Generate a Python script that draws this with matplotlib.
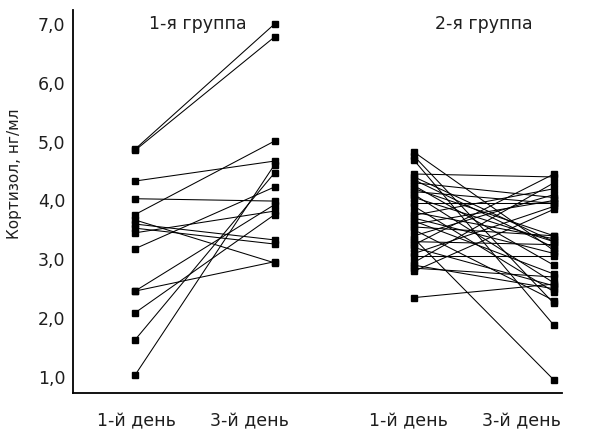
import matplotlib
matplotlib.use('Agg')
import matplotlib.pyplot as plt

plt.rcParams['font.family'] = ['DejaVu Sans']

# 1-я группа: значения в 1-й и 3-й день (пары)
g1_day1 = [4.87, 4.85, 4.33, 4.03, 3.76, 3.67, 3.60, 3.53, 3.45, 3.18, 2.46, 2.46, 2.09, 1.63, 1.03]
g1_day3 = [7.00, 6.78, 4.67, 3.99, 5.01, 2.94, 3.33, 3.26, 3.82, 4.23, 2.96, 3.93, 3.76, 4.47, 4.61]

# 2-я группа
g2_day1 = [4.82, 4.75, 4.68, 4.45, 4.40, 4.35, 4.30, 4.25, 4.20, 4.15, 4.10, 4.05, 3.95,
           3.90, 3.80, 3.75, 3.70, 3.65, 3.60, 3.55, 3.50, 3.40, 3.35, 3.30, 3.25, 3.20,
           3.10, 3.05, 2.95, 2.90, 2.85, 2.80, 2.35]
g2_day3 = [3.15, 2.25, 1.88, 4.40, 3.30, 3.20, 4.05, 2.90, 3.40, 3.95, 2.60, 3.30, 3.95,
           2.45, 3.35, 4.20, 3.10, 2.75, 4.00, 3.40, 2.30, 4.10, 0.95, 3.25, 4.45, 2.55,
           3.90, 3.05, 4.30, 2.50, 2.70, 3.85, 2.58]

x_pos = [1, 2, 3, 4]
day_labels = ['1-й день', '3-й день', '1-й день', '3-й день']
label_pos = [1.01, 1.82, 2.96, 3.77]
group_titles = ['1-я группа', '2-я группа']
yticks = [1, 2, 3, 4, 5, 6, 7]

txt_color = '#1e1e1e'

fig = plt.figure(figsize=(5.99, 4.46), dpi=100)
ax = fig.add_axes([0.122, 0.119, 0.816, 0.859])

for a, b in zip(g1_day1, g1_day3):
    ax.plot([x_pos[0], x_pos[1]], [a, b], color='black', lw=0.75,
            marker='s', ms=4, mfc='black', mec='black')
for a, b in zip(g2_day1, g2_day3):
    ax.plot([x_pos[2], x_pos[3]], [a, b], color='black', lw=0.75,
            marker='s', ms=4, mfc='black', mec='black')

ax.set_xlim(0.557, 4.057)
ax.set_ylim(0.73, 7.24)
ax.set_yticks(yticks)
ax.set_yticklabels([('%.1f' % v).replace('.', ',') for v in yticks], fontsize=12.5, color=txt_color)
ax.set_xticks(label_pos)
ax.set_xticklabels(day_labels, fontsize=12.5, color=txt_color)
ax.tick_params(axis='both', length=0)
ax.tick_params(axis='y', pad=5.5)
ax.tick_params(axis='x', pad=14)
ax.set_ylabel('Кортизол, нг/мл', fontsize=11, color=txt_color)
ax.yaxis.set_label_coords(-0.104, 0.572)

for s in ['top', 'right']:
    ax.spines[s].set_visible(False)
for s in ['left', 'bottom']:
    ax.spines[s].set_linewidth(1.3)

ax.text(1.45, 7.0, group_titles[0], ha='center', va='center', fontsize=12.5, color=txt_color)
ax.text(3.50, 7.0, group_titles[1], ha='center', va='center', fontsize=12.5, color=txt_color)

fig.savefig('out.png', dpi=100)
